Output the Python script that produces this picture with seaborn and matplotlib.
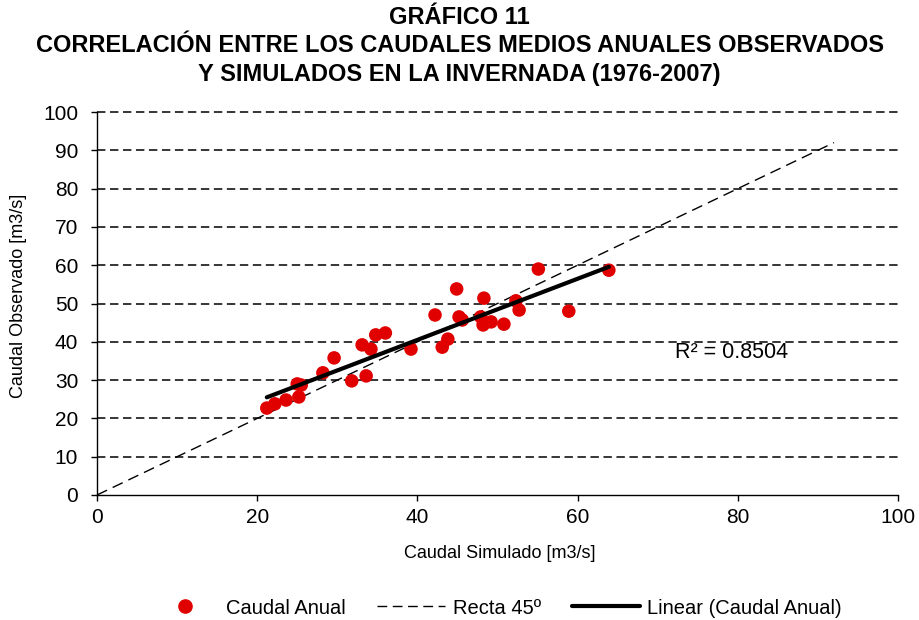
import numpy as np
import pandas as pd
import matplotlib
matplotlib.use('Agg')
import matplotlib.pyplot as plt
import seaborn as sns
from matplotlib.lines import Line2D

# caudales medios anuales
simulado = [21.2, 22.2, 23.6, 25.0, 25.5, 25.2, 28.2, 29.6, 31.8, 33.1, 33.6, 34.2,
            34.8, 36.0, 39.2, 42.2, 43.1, 43.8, 44.9, 45.2, 45.6, 47.9, 48.2, 48.3,
            49.2, 50.8, 52.3, 52.7, 55.1, 58.9, 63.9]
observado = [22.7, 23.8, 24.8, 29.0, 28.7, 25.6, 31.9, 35.8, 29.8, 39.2, 31.1, 38.1,
             41.8, 42.3, 38.1, 47.0, 38.6, 40.7, 53.8, 46.5, 45.7, 46.5, 44.4, 51.4,
             45.2, 44.6, 50.7, 48.3, 59.0, 48.0, 58.7]
recta_x = [0, 92]
recta_y = [0, 92]
r2_label = 'R² = 0.8504'

df = pd.DataFrame({'sim': simulado, 'obs': observado})

sns.set_style('white')
plt.rcParams['font.family'] = ['Liberation Sans', 'DejaVu Sans']
plt.rcParams.update({'text.color': 'black', 'axes.labelcolor': 'black',
                     'xtick.color': 'black', 'ytick.color': 'black'})

fig = plt.figure(figsize=(9.19, 6.2), dpi=100)
ax = fig.add_axes([97/919, 1 - 495/620, (898-97)/919, (495-112)/620])

for yv in range(10, 101, 10):
    ax.axhline(yv, color='black', lw=1.1, ls=(0, (5.5, 3)), zorder=0, clip_on=False)

ax.plot(recta_x, recta_y, color='black', lw=1.0, ls=(0, (8, 4.5)), zorder=1)
sns.regplot(data=df, x='sim', y='obs', scatter=False, ci=None, truncate=True,
            line_kws={'color': 'black', 'lw': 3, 'zorder': 3}, ax=ax)
sns.scatterplot(data=df, x='sim', y='obs', color='#e00000', s=95, edgecolor='none',
                zorder=2, ax=ax)

ax.set_xlim(0, 100)
ax.set_ylim(0, 100)
ax.set_xticks(range(0, 101, 20))
ax.set_yticks(range(0, 101, 10))
ax.tick_params(labelsize=15, direction='out', length=4.5, width=1, left=True, bottom=True)
ax.tick_params(axis='y', pad=9)
ax.tick_params(axis='x', pad=5)
for s in ['top', 'right']:
    ax.spines[s].set_visible(False)
for s in ['left', 'bottom']:
    ax.spines[s].set_color('black')
    ax.spines[s].set_linewidth(1)

ax.set_xlabel('Caudal Simulado [m3/s]', fontsize=13)
ax.set_ylabel('Caudal Observado [m3/s]', fontsize=13)
ax.xaxis.set_label_coords((500 - 97) / 801, (495 - 545) / 383)
ax.yaxis.set_label_coords((27 - 97) / 801, 0.52)
ax.text(72.2, 37.2, r2_label, fontsize=15.5, va='center', ha='left')

fig.text(0.5, 1 - 46/620,
         'GRÁFICO 11\nCORRELACIÓN ENTRE LOS CAUDALES MEDIOS ANUALES OBSERVADOS\n'
         'Y SIMULADOS EN LA INVERNADA (1976-2007)',
         fontsize=17, fontweight='bold', ha='center', va='center',
         linespacing=1.3, multialignment='center')

handles = [
    Line2D([], [], marker='o', color='#e00000', ls='none', markersize=9.5),
    Line2D([], [], color='black', lw=1, ls=(0, (7, 4))),
    Line2D([], [], color='black', lw=3),
]
fig.legend(handles, ['Caudal Anual', 'Recta 45º', 'Linear (Caudal Anual)'],
           loc='center', bbox_to_anchor=(0.54, 1 - 608/620), ncol=3, frameon=False,
           fontsize=14.5, handlelength=3.4, handletextpad=0.35, columnspacing=1.55)

fig.savefig('out.png', dpi=100)
